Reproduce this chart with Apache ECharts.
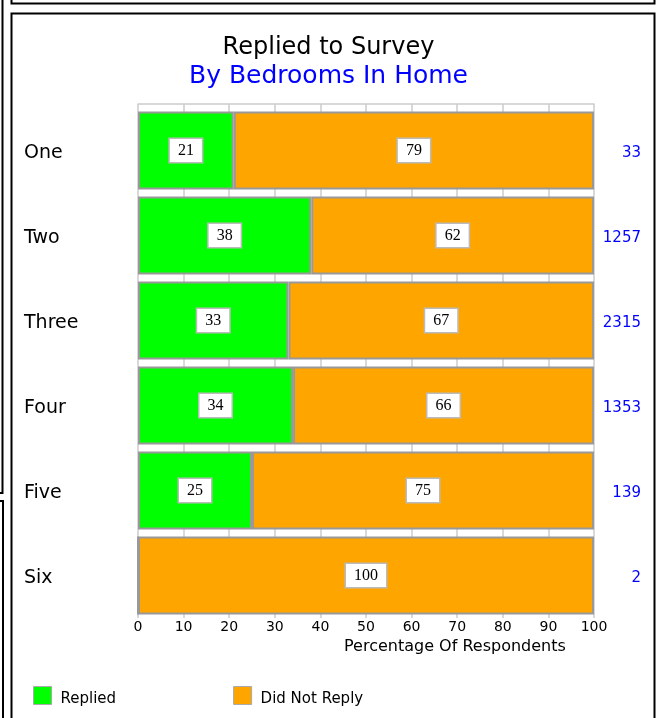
<!DOCTYPE html>
<html>
<head>
<meta charset="utf-8">
<title>Replied to Survey</title>
<script src="https://cdn.jsdelivr.net/npm/echarts@6/dist/echarts.min.js"></script>
<style>
  html, body { margin: 0; padding: 0; background: #ffffff; }
  #chart { width: 657px; height: 718px; }
</style>
</head>
<body>
<div id="chart"></div>
<script>
// Survey response by number of bedrooms (percent of respondents)
const categories = ['One', 'Two', 'Three', 'Four', 'Five', 'Six'];
const repliedPct = [21, 38, 33, 34, 25, 0];
const noReplyPct = [79, 62, 67, 66, 75, 100];
const respondentCounts = ['33', '1257', '2315', '1353', '139', '2'];
const xTicks = { min: 0, max: 100, step: 10 };

const FONT = 'DejaVu Sans';
const GREEN = '#00ff00';
const ORANGE = '#ffa500';
const BLUE = '#0000ff';
const GRID_GREY = '#cccccc';
const BAR_EDGE = '#999999';

const valueLabel = {
  show: true,
  position: 'inside',
  fontFamily: 'Liberation Serif',
  fontSize: 16,
  color: '#000000',
  backgroundColor: '#ffffff',
  borderColor: '#bbbbbb',
  borderWidth: 1.5,
  padding: [5, 8, 2, 8]
};

function toBarData(values) {
  return values.map(v => (v > 0 ? v : { value: v, label: { show: false } }));
}

const chart = echarts.init(document.getElementById('chart'), null, { renderer: 'canvas' });

chart.setOption({
  animation: false,
  backgroundColor: '#ffffff',
  title: {
    text: 'Replied to Survey',
    subtext: 'By Bedrooms In Home',
    left: 'center',
    top: 31,
    itemGap: 4,
    textStyle: { fontFamily: FONT, fontSize: 24, fontWeight: 'normal', color: '#000000' },
    subtextStyle: { fontFamily: FONT, fontSize: 25, color: BLUE }
  },
  legend: {
    left: 33,
    top: 686,
    padding: 0,
    itemWidth: 18,
    itemHeight: 18,
    itemGap: 117,
    icon: 'rect',
    itemStyle: { borderColor: '#aaaaaa', borderWidth: 1 },
    formatter: '{t|{name}}',
    textStyle: {
      rich: { t: { fontFamily: FONT, fontSize: 15, color: '#000000', padding: [7, 0, 0, 4] } }
    },
    data: ['Replied', 'Did Not Reply']
  },
  grid: { left: 138, right: 63, top: 108, height: 510, containLabel: false },
  xAxis: [
    {
      type: 'value',
      position: 'bottom',
      min: xTicks.min,
      max: xTicks.max,
      interval: xTicks.step,
      axisLine: { show: false },
      axisTick: { show: false },
      axisLabel: { fontFamily: FONT, fontSize: 14, color: '#000000', margin: 2 },
      splitLine: { show: true, lineStyle: { color: GRID_GREY, width: 1.5 } }
    },
    {
      type: 'value',
      position: 'top',
      offset: 4,
      min: xTicks.min,
      max: xTicks.max,
      interval: xTicks.step,
      axisLine: { show: true, lineStyle: { color: GRID_GREY, width: 1.5 } },
      axisTick: { show: true, inside: true, length: 4, lineStyle: { color: GRID_GREY, width: 1.5 } },
      axisLabel: { show: false },
      splitLine: { show: false }
    }
  ],
  yAxis: [
    {
      type: 'category',
      data: categories,
      inverse: true,
      position: 'left',
      axisLine: { show: false },
      axisTick: { show: false },
      axisLabel: {
        align: 'left', margin: 114,
        formatter: '{v|{value}}',
        rich: { v: { fontFamily: FONT, fontSize: 19, color: '#000000', padding: [6, 0, 0, 0] } }
      }
    },
    {
      type: 'category',
      data: respondentCounts,
      inverse: true,
      position: 'right',
      axisLine: { show: false },
      axisTick: { show: false },
      axisLabel: {
        align: 'right', margin: 47,
        formatter: '{v|{value}}',
        rich: { v: { fontFamily: FONT, fontSize: 15, color: BLUE, padding: [6, 0, 0, 0] } }
      }
    }
  ],
  series: [
    {
      name: 'Replied',
      type: 'bar',
      stack: 'share',
      barWidth: 78,
      xAxisIndex: 0,
      yAxisIndex: 0,
      itemStyle: { color: GREEN, borderColor: BAR_EDGE, borderWidth: 2 },
      label: valueLabel,
      data: toBarData(repliedPct)
    },
    {
      name: 'Did Not Reply',
      type: 'bar',
      stack: 'share',
      barWidth: 78,
      xAxisIndex: 0,
      yAxisIndex: 0,
      itemStyle: { color: ORANGE, borderColor: BAR_EDGE, borderWidth: 2 },
      label: valueLabel,
      data: toBarData(noReplyPct)
    }
  ],
  graphic: [
    {
      type: 'text',
      left: 344,
      top: 639,
      style: { text: 'Percentage Of Respondents', fontFamily: FONT, fontSize: 16, fill: '#000000' }
    },
    // panel frames
    { type: 'polyline', shape: { points: [[11.5, 0], [11.5, 3.5], [654.5, 3.5], [654.5, 0]] },
      style: { stroke: '#000000', lineWidth: 2, fill: null } },
    { type: 'polyline', shape: { points: [[11.5, 720], [11.5, 13.5], [654.5, 13.5], [654.5, 720]] },
      style: { stroke: '#000000', lineWidth: 2, fill: null } },
    { type: 'polyline', shape: { points: [[2.5, 0], [2.5, 493], [0, 493]] },
      style: { stroke: '#000000', lineWidth: 2, fill: null } },
    { type: 'polyline', shape: { points: [[0, 501], [3, 501], [3, 720]] },
      style: { stroke: '#000000', lineWidth: 2, fill: null } }
  ]
});
</script>
</body>
</html>
